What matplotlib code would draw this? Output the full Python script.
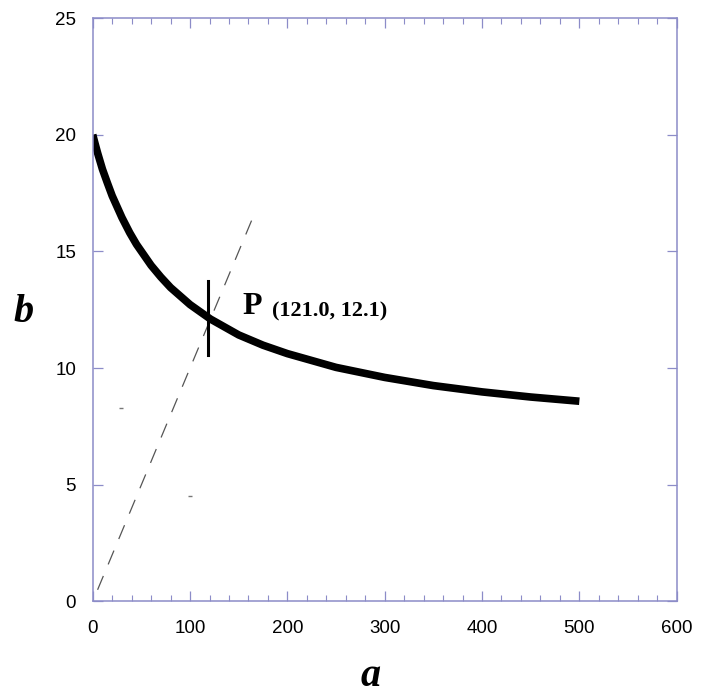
import numpy as np
import matplotlib
matplotlib.use("Agg")
import matplotlib.pyplot as plt
from matplotlib.ticker import MultipleLocator

# curve
a_vals = [0, 2, 5, 10, 15, 20, 30, 38, 45, 60, 70, 80, 100, 121, 150, 175, 200, 250,
          300, 350, 400, 450, 500]
b_vals = [20.0, 19.68, 19.22, 18.52, 17.94, 17.38, 16.45, 15.8, 15.3, 14.4, 13.9, 13.45,
          12.72, 12.1, 11.42, 10.98, 10.62, 10.03, 9.6, 9.25, 8.98, 8.76, 8.58]

# dashed guide line b = a/10
guide_a = [5, 168]
guide_b = [0.5, 16.8]

# marker at P
p_a = 118
p_b_range = [10.55, 13.75]
p_label = "(121.0, 12.1)"

# two stray specks in the original
speck_a = [29, 100]
speck_b = [8.28, 4.5]

axis_col = "#8c8cc8"

fig = plt.figure(figsize=(7.04, 6.98), dpi=100)
ax = fig.add_axes([0.1317, 0.1383, 0.8295, 0.8359])

ax.plot(guide_a, guide_b, color="#555555", lw=0.9, linestyle=(0, (12, 10)))
ax.plot(a_vals, b_vals, color="black", lw=5.5, solid_capstyle="butt", solid_joinstyle="round")
ax.plot([p_a, p_a], p_b_range, color="black", lw=2.2)
ax.plot(speck_a, speck_b, linestyle="none", marker="_", ms=3, color="#777777", mew=1)

ax.text(154, 12.3, "P", fontsize=23, fontweight="bold", family="Liberation Serif",
        va="baseline")
ax.text(184, 12.2, p_label, fontsize=16, fontweight="bold", family="Liberation Serif",
        va="baseline")

ax.set_xlim(0, 600)
ax.set_ylim(0, 25)
ax.xaxis.set_major_locator(MultipleLocator(100))
ax.xaxis.set_minor_locator(MultipleLocator(20))
ax.yaxis.set_major_locator(MultipleLocator(5))

for s in ax.spines.values():
    s.set_color(axis_col)
    s.set_linewidth(1.1)

ax.tick_params(axis="both", which="both", direction="in", colors=axis_col,
               top=True, right=True, labelcolor="black", labelsize=13.5)
ax.tick_params(which="major", length=7, width=0.9)
ax.tick_params(which="minor", length=4, width=0.8)
ax.tick_params(axis="x", pad=13)
ax.tick_params(axis="y", pad=12)
for lab in ax.get_xticklabels() + ax.get_yticklabels():
    lab.set_family("Liberation Sans")

fig.text(371 / 704, 1 - 676 / 698, "a", fontsize=29, fontweight="bold", style="italic",
         family="Liberation Serif", ha="center", va="center")
fig.text(24 / 704, 1 - 313 / 698, "b", fontsize=29, fontweight="bold", style="italic",
         family="Liberation Serif", ha="center", va="center")

fig.savefig("out.png", dpi=100)
